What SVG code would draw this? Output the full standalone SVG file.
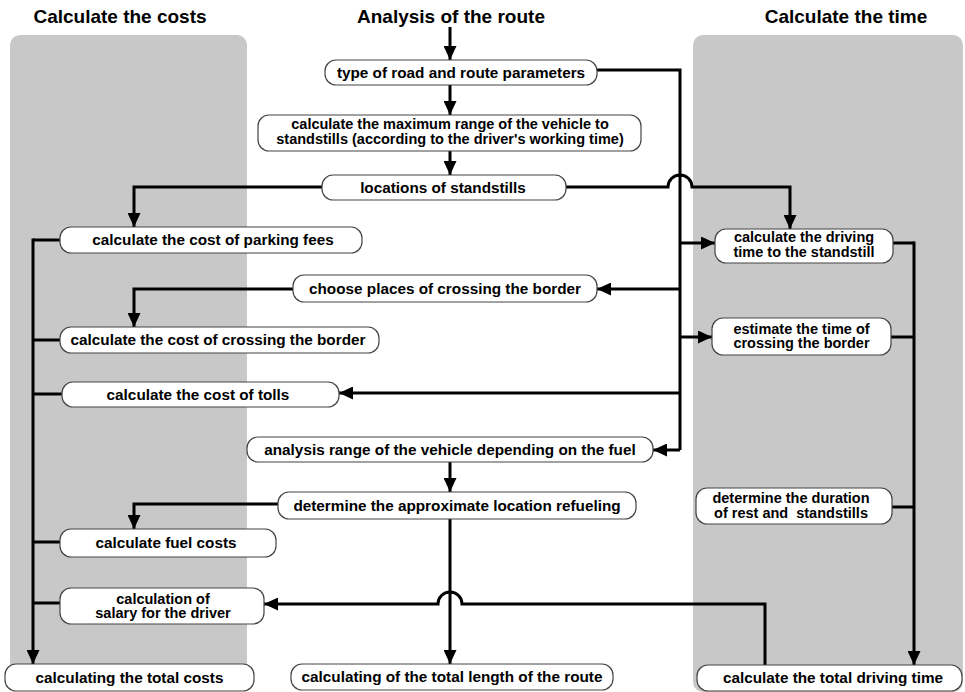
<svg xmlns="http://www.w3.org/2000/svg" width="965" height="692" viewBox="0 0 965 692">
<style>
.panel{fill:#c8c8c8}
.title{font-family:"Liberation Sans",Arial,sans-serif;font-weight:bold;font-size:19px;fill:#000;text-anchor:middle}
.node rect{fill:#fff;stroke:#444;stroke-width:1.2}
.node text{font-family:"Liberation Sans",Arial,sans-serif;font-weight:bold;font-size:15.3px;fill:#000;text-anchor:middle}
.node text.two{font-size:14.5px}
.conn path{fill:none;stroke:#000;stroke-width:3}
.arr{marker-end:url(#ah)}
</style>
<defs>
<marker id="ah" markerUnits="userSpaceOnUse" markerWidth="14" markerHeight="13" refX="14" refY="6.5" orient="auto">
<path d="M0,0 L14,6.5 L0,13 z" fill="#000"/>
</marker>
</defs>
<rect width="965" height="692" fill="#fff"/>
<rect class="panel" x="10" y="35" width="237" height="650" rx="10"/>
<rect class="panel" x="693" y="35" width="270" height="657" rx="10"/>
<text class="title" x="120" y="23">Calculate the costs</text>
<text class="title" x="451" y="23">Analysis of the route</text>
<text class="title" x="846" y="23">Calculate the time</text>
<g class="conn">
<path class="arr" d="M450,27 V60"/>
<path class="arr" d="M450,85 V115"/>
<path class="arr" d="M450,151 V175"/>
<path d="M597,70 H680 V450"/>
<path class="arr" d="M680,450 H653"/>
<path class="arr" d="M680,243 H715"/>
<path class="arr" d="M680,289 H597"/>
<path class="arr" d="M680,337 H712"/>
<path class="arr" d="M680,393 H339"/>
<path class="arr" d="M566,187 H668 A12,12 0 0 1 692,187 H790 V229"/>
<path class="arr" d="M322,187 H134 V227"/>
<path class="arr" d="M293,289 H134 V327"/>
<path class="arr" d="M450,462 V492"/>
<path class="arr" d="M278,504 H134 V529"/>
<path class="arr" d="M450,519 V664"/>
<path class="arr" d="M765,665 V604 H462 A12,12 0 0 0 438,604 H264"/>
<path d="M893,243 H914"/>
<path d="M891,337 H914"/>
<path d="M892,507 H914"/>
<path class="arr" d="M914,241.5 V665"/>
<path d="M60,240 H33"/>
<path d="M60,340 H33"/>
<path d="M62,394 H33"/>
<path d="M60,542 H33"/>
<path d="M60,603 H33"/>
<path class="arr" d="M33,238.5 V664"/>
</g>
<g id="n1" class="node"><rect x="325" y="60" width="272" height="25" rx="11"/><text x="461" y="77.5">type of road and route parameters</text></g>
<g id="n2" class="node"><rect x="258" y="115" width="383" height="36" rx="11"/><text class="two" x="450" y="129">calculate the maximum range of the vehicle to</text><text class="two" x="450" y="143.5">standstills (according to the driver's working time)</text></g>
<g id="n3" class="node"><rect x="322" y="175" width="244" height="25" rx="11"/><text x="443" y="192.5">locations of standstills</text></g>
<g id="n4" class="node"><rect x="293" y="275" width="304" height="27" rx="11"/><text x="445" y="293.5">choose places of crossing the border</text></g>
<g id="n5" class="node"><rect x="247" y="437" width="406" height="25" rx="11"/><text x="450" y="454.5">analysis range of the vehicle depending on the fuel</text></g>
<g id="n6" class="node"><rect x="278" y="492" width="358" height="27" rx="11"/><text x="457" y="510.5">determine the approximate location refueling</text></g>
<g id="n7" class="node"><rect x="291" y="664" width="322" height="26" rx="11"/><text x="452" y="682">calculating of the total length of the route</text></g>
<g id="n8" class="node"><rect x="60" y="227" width="302" height="26" rx="11"/><text x="213" y="245">calculate the cost of parking fees</text></g>
<g id="n9" class="node"><rect x="60" y="327" width="319" height="26" rx="11"/><text x="218" y="345">calculate the cost of crossing the border</text></g>
<g id="n10" class="node"><rect x="62" y="382" width="277" height="25" rx="11"/><text x="198" y="399.5">calculate the cost of tolls</text></g>
<g id="n11" class="node"><rect x="60" y="529" width="216" height="28" rx="11"/><text x="166" y="548">calculate fuel costs</text></g>
<g id="n12" class="node"><rect x="60" y="588" width="204" height="36" rx="11"/><text class="two" x="163" y="603.5">calculation of</text><text class="two" x="163" y="618">salary for the driver</text></g>
<g id="n13" class="node"><rect x="5" y="664" width="249" height="27" rx="11"/><text x="129.5" y="682.5">calculating the total costs</text></g>
<g id="n14" class="node"><rect x="715" y="229" width="178" height="34" rx="11"/><text class="two" x="804" y="242">calculate the driving</text><text class="two" x="804" y="256.5">time to the standstill</text></g>
<g id="n15" class="node"><rect x="712" y="318" width="179" height="37" rx="11"/><text class="two" x="801.5" y="333.5">estimate the time of</text><text class="two" x="801.5" y="348">crossing the border</text></g>
<g id="n16" class="node"><rect x="696" y="488" width="196" height="36" rx="11"/><text class="two" x="791" y="503">determine the duration</text><text class="two" x="791" y="517.5" xml:space="preserve">of rest and  standstills</text></g>
<g id="n17" class="node"><rect x="697" y="665" width="265" height="26" rx="11"/><text x="833" y="683">calculate the total driving time</text></g>
</svg>
